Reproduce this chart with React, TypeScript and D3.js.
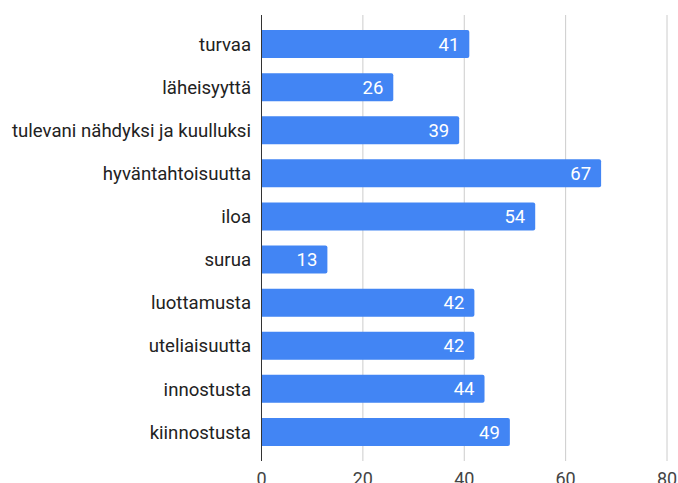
import React, { useEffect, useRef } from "react";
import * as d3 from "d3";

const categories = [
  "turvaa",
  "läheisyyttä",
  "tulevani nähdyksi ja kuulluksi",
  "hyväntahtoisuutta",
  "iloa",
  "surua",
  "luottamusta",
  "uteliaisuutta",
  "innostusta",
  "kiinnostusta",
];
const values = [41, 26, 39, 67, 54, 13, 42, 42, 44, 49];
const ticks = [0, 20, 40, 60, 80];

const W = 678;
const H = 483;
const FONT = "Roboto, 'Noto Sans', sans-serif";

export default function App() {
  const ref = useRef<SVGSVGElement>(null);

  useEffect(() => {
    const svg = d3.select(ref.current);
    svg.selectAll("*").remove();

    const x = d3.scaleLinear().domain([0, 80]).range([261.5, 667]);
    const y = d3
      .scaleBand<string>()
      .domain(categories)
      .range([15, 461])
      .paddingInner(0.35)
      .paddingOuter(0.35);

    const data = categories.map((c, i) => ({ name: c, value: values[i] }));

    // gridlines
    svg
      .append("g")
      .selectAll("line")
      .data(ticks.filter((t) => t > 0))
      .enter()
      .append("line")
      .attr("x1", (d) => x(d))
      .attr("x2", (d) => x(d))
      .attr("y1", 15)
      .attr("y2", 461)
      .attr("stroke", "#cccccc")
      .attr("stroke-width", 1);

    // bars
    const bars = svg.append("g").selectAll("g").data(data).enter().append("g");

    bars
      .append("path")
      .attr("fill", "#4285f4")
      .attr("d", (d) => {
        const x0 = x(0);
        const x1 = x(d.value);
        const y0 = y(d.name)!;
        const h = y.bandwidth();
        const r = 2;
        return `M${x0},${y0}H${x1 - r}Q${x1},${y0} ${x1},${y0 + r}V${y0 + h - r}Q${x1},${y0 + h} ${x1 - r},${y0 + h}H${x0}Z`;
      });

    bars
      .append("text")
      .attr("x", (d) => x(d.value) - 10)
      .attr("y", (d) => y(d.name)! + y.bandwidth() / 2)
      .attr("dy", "0.36em")
      .attr("text-anchor", "end")
      .attr("fill", "#ffffff")
      .attr("font-family", FONT)
      .attr("font-size", 18.5)
      .text((d) => d.value);

    // category labels
    svg
      .append("g")
      .selectAll("text")
      .data(data)
      .enter()
      .append("text")
      .attr("x", 251)
      .attr("y", (d) => y(d.name)! + y.bandwidth() / 2)
      .attr("dy", "0.36em")
      .attr("text-anchor", "end")
      .attr("fill", "#222222")
      .attr("font-family", FONT)
      .attr("font-size", 18.6)
      .text((d) => d.name);

    // zero axis
    svg
      .append("line")
      .attr("x1", x(0))
      .attr("x2", x(0))
      .attr("y1", 15)
      .attr("y2", 461)
      .attr("stroke", "#333333")
      .attr("stroke-width", 1);

    // tick labels
    svg
      .append("g")
      .selectAll("text")
      .data(ticks)
      .enter()
      .append("text")
      .attr("x", (d) => x(d))
      .attr("y", 485)
      .attr("text-anchor", "middle")
      .attr("fill", "#444444")
      .attr("font-family", FONT)
      .attr("font-size", 18)
      .text((d) => d);
  }, []);

  return (
    <svg
      ref={ref}
      width={W}
      height={H}
      style={{ position: "absolute", left: 0, top: 0, background: "#fff" }}
    />
  );
}
